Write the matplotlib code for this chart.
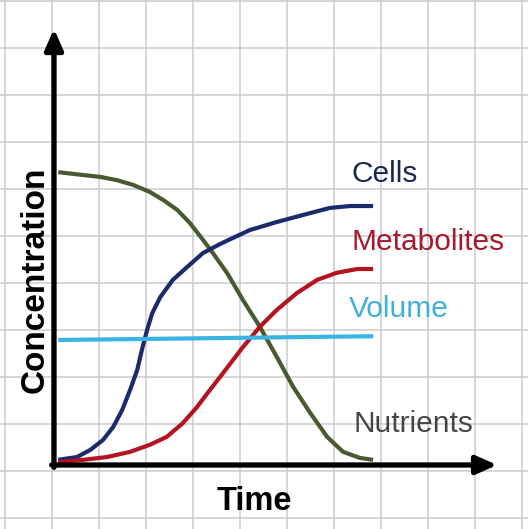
import numpy as np
import matplotlib
matplotlib.use("Agg")
import matplotlib.pyplot as plt
from matplotlib.patches import FancyArrowPatch

# values, in grid units (time, concentration)
cells_t = [0.09, 0.49, 0.77, 1.04, 1.26, 1.45, 1.62, 1.77, 1.87, 1.98, 2.09, 2.26, 2.53,
           2.83, 3.17, 3.53, 3.74, 4.17, 4.74, 5.30, 5.87, 6.30, 6.79]
cells_c = [0.11, 0.17, 0.32, 0.53, 0.81, 1.17, 1.60, 2.02, 2.45, 2.87, 3.23, 3.57, 3.94,
           4.21, 4.51, 4.70, 4.80, 5.00, 5.17, 5.32, 5.47, 5.51, 5.51]

metab_t = [0.09, 0.62, 1.13, 1.62, 2.04, 2.40, 2.74, 3.04, 3.32, 3.60, 4.02, 4.38, 4.74,
           5.17, 5.60, 6.02, 6.45, 6.79]
metab_c = [0.06, 0.11, 0.17, 0.28, 0.43, 0.60, 0.89, 1.23, 1.60, 1.96, 2.51, 2.94, 3.30,
           3.66, 3.94, 4.09, 4.17, 4.17]

nutr_t = [0.09, 0.62, 0.98, 1.34, 1.68, 2.04, 2.32, 2.62, 2.89, 3.17, 3.38, 3.68, 4.02,
          4.38, 4.74, 5.09, 5.45, 5.81, 6.15, 6.51, 6.79]
nutr_c = [6.23, 6.17, 6.13, 6.06, 5.96, 5.81, 5.64, 5.43, 5.15, 4.79, 4.51, 4.09, 3.51,
          2.94, 2.30, 1.66, 1.11, 0.60, 0.28, 0.15, 0.11]

vol_t = [0.09, 6.79]
vol_c = [2.66, 2.74]

labels = ["Cells", "Metabolites", "Volume", "Nutrients"]
label_pos = [(6.34, 6.02), (6.32, 4.57), (6.28, 3.15), (6.38, 0.70)]
label_colors = ["#1c2452", "#a8192e", "#3eb0dc", "#454545"]

fig = plt.figure(figsize=(5.28, 5.29), dpi=100)
ax = fig.add_axes([0, 0, 1, 1])
ax.set_xlim(-54 / 47, 474 / 47)
ax.set_ylim(-64 / 47, 465 / 47)
ax.axis("off")

# squared paper background
for gx in np.arange(-1, 11) - 0.04:
    ax.axvline(gx, color="#cbcbcb", lw=1.1, zorder=0)
for gy in np.arange(-1, 11) - 0.12:
    ax.axhline(gy, color="#cbcbcb", lw=1.1, zorder=0)

line_kw = dict(lw=3, solid_capstyle="butt", solid_joinstyle="round", zorder=3)
ax.plot(nutr_t, nutr_c, color="#4a5a30", **line_kw)
ax.plot(cells_t, cells_c, color="#1b2a6b", **line_kw)
ax.plot(metab_t, metab_c, color="#b3141f", **line_kw)
ax.plot(vol_t, vol_c, color="#3ab5e3", **line_kw)

# axes with arrow heads
style = "-|>,head_length=0.95,head_width=0.42"
ax.add_patch(FancyArrowPatch((0, -0.05), (0, 9.28), arrowstyle=style, mutation_scale=13,
                             lw=3.8, color="black", shrinkA=0, shrinkB=0, zorder=4))
ax.add_patch(FancyArrowPatch((-0.05, 0), (9.43, 0), arrowstyle=style, mutation_scale=13,
                             lw=3.8, color="black", shrinkA=0, shrinkB=0, zorder=4))

for text, (tx, ty), col in zip(labels, label_pos, label_colors):
    ax.text(tx, ty, text, color=col, fontsize=21.5, family="Liberation Sans",
            ha="left", va="baseline")

ax.text(3.47, -0.96, "Time", fontsize=23.5, fontweight="bold", family="Liberation Sans",
        ha="left", va="baseline")
ax.text(-0.23, 1.53, "Concentration", fontsize=24, fontweight="bold", family="Liberation Sans",
        rotation=90, rotation_mode="anchor", ha="left", va="baseline")

fig.savefig("out.png", dpi=100)
